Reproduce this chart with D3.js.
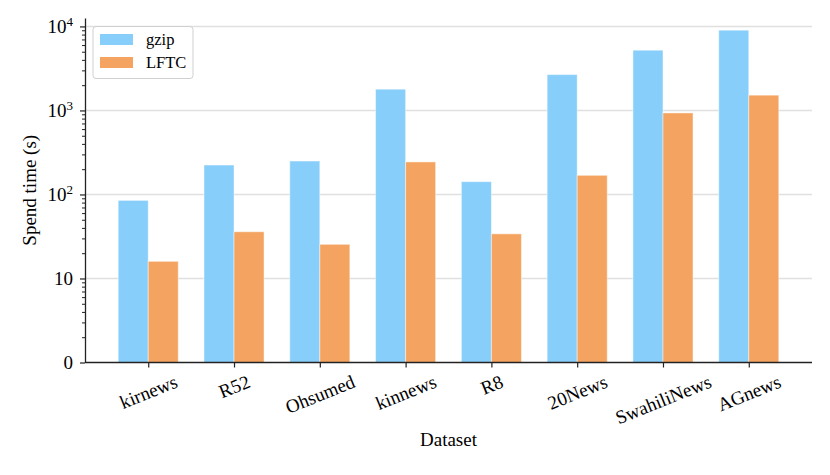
<!DOCTYPE html>
<html>
<head>
<meta charset="utf-8">
<script src="https://cdn.jsdelivr.net/npm/d3@7"></script>
<style>
  html, body { margin: 0; padding: 0; background: #fff; }
  svg { display: block; font-family: "Liberation Serif", "DejaVu Serif", serif; }
</style>
</head>
<body>
<svg id="chart" width="830" height="475"></svg>
<script>
const categories = ["kirnews", "R52", "Ohsumed", "kinnews", "R8", "20News", "SwahiliNews", "AGnews"];
const gzipValues = [85, 224, 250, 1790, 142, 2670, 5210, 9020];
const lftcValues = [16, 36, 25.5, 244, 34, 169, 934, 1520];
const seriesNames = ["gzip", "LFTC"];
const seriesColors = ["#87CEFA", "#F4A460"];
const majorTicks = [1, 10, 100, 1000, 10000];
const majorTickLabels = [["0", null], ["10", null], ["10", "2"], ["10", "3"], ["10", "4"]];

(function () {
const svg = d3.select("#chart");
const mLeft = 85, mRight = 812, mTop = 18, mBottom = 362.5;

const x = d3.scalePoint().domain(categories).range([mLeft, mRight]).padding(0.737);
const step = x.step();
const barW = step * 0.35;
const y = d3.scaleLog().domain([1, 12600]).range([mBottom, mTop]);

// gridlines
svg.append("g").selectAll("line").data(majorTicks.slice(1)).join("line")
  .attr("x1", mLeft).attr("x2", mRight)
  .attr("y1", d => y(d)).attr("y2", d => y(d))
  .attr("stroke", "#e0e0e0").attr("stroke-width", 1.5);

// bars
const series = [gzipValues, lftcValues];
series.forEach((vals, si) => {
  svg.append("g").selectAll("rect").data(vals).join("rect")
    .attr("x", (d, i) => x(categories[i]) + (si === 0 ? -barW : 0))
    .attr("width", barW)
    .attr("y", d => y(d))
    .attr("height", d => y(1) - y(d))
    .attr("fill", seriesColors[si])
    .attr("stroke", "#ffffff").attr("stroke-opacity", 0.45).attr("stroke-width", 1);
});

// y axis
const minorTicks = [];
[1, 10, 100, 1000, 10000].forEach(b => { for (let k = 2; k <= 9; k++) if (b * k <= 12600) minorTicks.push(b * k); });

const yMinor = svg.append("g").attr("transform", `translate(${mLeft},0)`)
  .call(d3.axisLeft(y).tickValues(minorTicks).tickSize(3).tickFormat(""));
yMinor.select(".domain").remove();
yMinor.selectAll("line").attr("stroke", "#222").attr("stroke-width", 1);

const yAxis = svg.append("g").attr("transform", `translate(${mLeft},0)`)
  .call(d3.axisLeft(y).tickValues(majorTicks).tickSize(5).tickSizeOuter(0).tickPadding(7).tickFormat(""));
yAxis.select(".domain").attr("stroke", "#222").attr("stroke-width", 1.3);
yAxis.selectAll(".tick line").attr("stroke", "#222").attr("stroke-width", 1.2);
yAxis.selectAll(".tick").each(function(d, i) {
  const t = d3.select(this).select("text")
    .attr("font-size", 19).attr("fill", "#000").attr("dy", "0.32em")
    .attr("font-family", "Liberation Serif, serif");
  const lab = majorTickLabels[i];
  t.append("tspan").text(lab[0]);
  if (lab[1]) t.append("tspan").attr("font-size", 13).attr("dy", "-0.55em").text(lab[1]);
});

// x axis
const xAxis = svg.append("g").attr("transform", `translate(0,${mBottom})`)
  .call(d3.axisBottom(x).tickSize(5).tickSizeOuter(0).tickFormat(""));
xAxis.select(".domain").attr("stroke", "#222").attr("stroke-width", 1.3)
  .attr("d", `M${mLeft},0H${mRight}`);
xAxis.selectAll(".tick line").attr("stroke", "#222").attr("stroke-width", 1.2);

const angle = 22, rad = angle * Math.PI / 180;
xAxis.selectAll(".tick").each(function(d) {
  const g = d3.select(this);
  const t = g.append("text")
    .attr("font-size", 19).attr("fill", "#000")
    .attr("text-anchor", "middle").attr("dy", "0.32em")
    .attr("font-family", "Liberation Serif, serif")
    .text(d);
  const w = t.node().getComputedTextLength();
  const h = 14;
  const bh = w * Math.sin(rad) + h * Math.cos(rad);
  const cy = 12 + bh / 2;
  t.attr("transform", `translate(0,${cy}) rotate(${-angle})`);
});

// axis titles
svg.append("text")
  .attr("x", (mLeft + mRight) / 2).attr("y", 446)
  .attr("text-anchor", "middle").attr("font-size", 19).text("Dataset");
svg.append("text")
  .attr("transform", `translate(36,${(mTop + mBottom) / 2}) rotate(-90)`)
  .attr("text-anchor", "middle").attr("font-size", 19).text("Spend time (s)");

// legend
const lg = svg.append("g");
lg.append("rect").attr("x", 93).attr("y", 26.5).attr("width", 100).attr("height", 52)
  .attr("rx", 3).attr("fill", "#fff").attr("fill-opacity", 0.8)
  .attr("stroke", "#d0d0d0").attr("stroke-width", 1);
seriesNames.forEach((n, i) => {
  const yy = 34 + i * 23;
  lg.append("rect").attr("x", 100).attr("y", yy).attr("width", 33).attr("height", 11)
    .attr("fill", seriesColors[i]);
  lg.append("text").attr("x", 146).attr("y", yy + 10.5).attr("font-size", 16.5).text(n);
});
})();
</script>
</body>
</html>
